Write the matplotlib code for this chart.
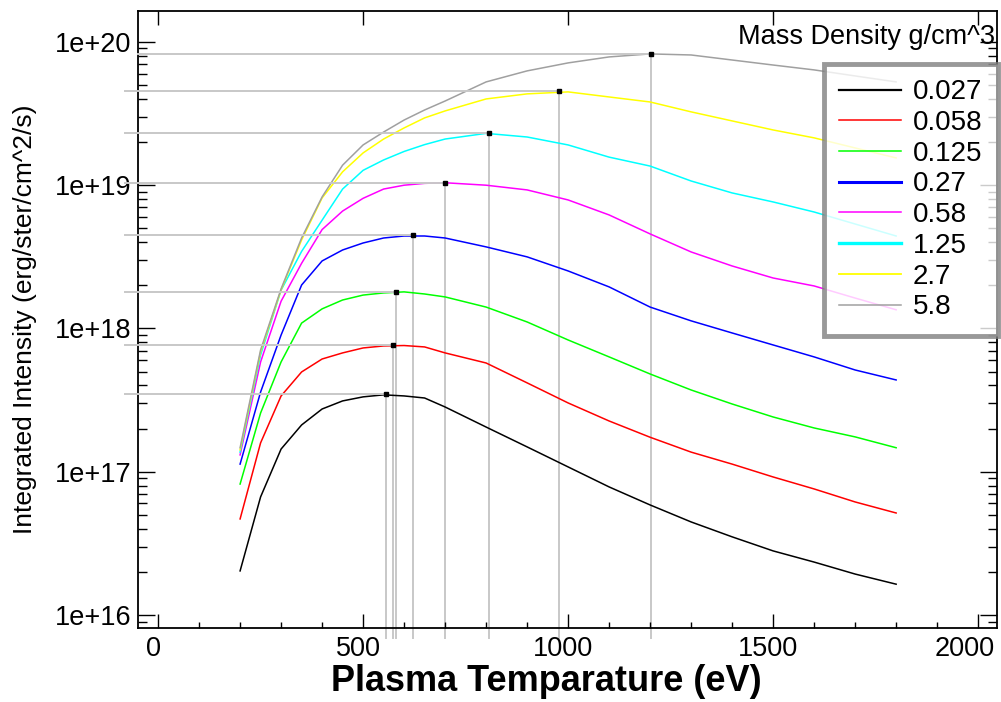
import numpy as np
import matplotlib
matplotlib.use('Agg')
import matplotlib.pyplot as plt
from matplotlib.ticker import MultipleLocator, LogLocator, FuncFormatter, NullFormatter
from matplotlib.lines import Line2D
from matplotlib.transforms import ScaledTranslation

plt.rcParams['font.family'] = ['Liberation Sans', 'DejaVu Sans']

# plasma temperature grid (eV)
temps = [200, 250, 300, 350, 400, 450, 500, 550, 600, 650, 700,
         800, 900, 1000, 1100, 1200, 1300, 1400, 1500, 1600, 1700, 1800]

densities = ['0.027', '0.058', '0.125', '0.27', '0.58', '1.25', '2.7', '5.8']
colors = ['black', '#ff0000', '#00ff00', '#0000ff', '#ff00ff', '#00ffff', '#ffff00', '#a0a0a0']

# integrated intensity (erg/ster/cm^2/s) for each density
I_0027 = [2.03e16, 6.67e16, 1.44e17, 2.12e17, 2.74e17, 3.12e17, 3.33e17, 3.44e17, 3.38e17, 3.27e17, 2.83e17,
          2.05e17, 1.49e17, 1.08e17, 7.83e16, 5.86e16, 4.46e16, 3.51e16, 2.80e16, 2.34e16, 1.93e16, 1.64e16]
I_0058 = [4.68e16, 1.59e17, 3.38e17, 4.97e17, 6.12e17, 6.75e17, 7.31e17, 7.55e17, 7.60e17, 7.43e17, 6.75e17,
          5.74e17, 4.17e17, 3.02e17, 2.26e17, 1.74e17, 1.37e17, 1.13e17, 9.19e16, 7.58e16, 6.15e16, 5.15e16]
I_0125 = [8.2e16, 2.57e17, 5.84e17, 1.09e18, 1.37e18, 1.58e18, 1.71e18, 1.77e18, 1.80e18, 1.74e18, 1.66e18,
          1.41e18, 1.11e18, 8.31e17, 6.33e17, 4.81e17, 3.72e17, 2.97e17, 2.41e17, 2.02e17, 1.75e17, 1.47e17]
I_027 = [1.13e17, 3.6e17, 9.0e17, 2.01e18, 2.96e18, 3.53e18, 3.95e18, 4.28e18, 4.42e18, 4.42e18, 4.28e18,
         3.71e18, 3.16e18, 2.52e18, 1.95e18, 1.41e18, 1.13e18, 9.30e17, 7.67e17, 6.33e17, 5.13e17, 4.37e17]
I_058 = [1.31e17, 5.84e17, 1.55e18, 2.85e18, 4.9e18, 6.6e18, 8.1e18, 9.4e18, 1.00e19, 1.03e19, 1.04e19,
         1.00e19, 9.27e18, 7.89e18, 6.20e18, 4.57e18, 3.42e18, 2.73e18, 2.25e18, 1.98e18, 1.63e18, 1.35e18]
I_125 = [1.37e17, 6.53e17, 1.85e18, 3.45e18, 5.7e18, 9.4e18, 1.27e19, 1.50e19, 1.72e19, 1.92e19, 2.10e19,
         2.30e19, 2.17e19, 1.91e19, 1.57e19, 1.36e19, 1.07e19, 8.83e18, 7.64e18, 6.50e18, 5.36e18, 4.42e18]
I_27 = [1.42e17, 6.86e17, 1.86e18, 4.15e18, 8.15e18, 1.24e19, 1.68e19, 2.10e19, 2.51e19, 2.95e19, 3.30e19,
        4.00e19, 4.34e19, 4.48e19, 4.13e19, 3.81e19, 3.25e19, 2.81e19, 2.43e19, 2.14e19, 1.82e19, 1.55e19]
I_58 = [1.47e17, 7.08e17, 1.89e18, 4.28e18, 8.28e18, 1.38e19, 1.91e19, 2.35e19, 2.85e19, 3.35e19, 3.87e19,
        5.26e19, 6.28e19, 7.14e19, 7.86e19, 8.25e19, 8.11e19, 7.48e19, 6.90e19, 6.38e19, 5.79e19, 5.26e19]

# peak position of each curve
peak_T = [556, 573, 580, 622, 700, 807, 978, 1202]
peak_I = [3.49e17, 7.67e17, 1.80e18, 4.50e18, 1.04e19, 2.32e19, 4.55e19, 8.25e19]

series = [I_0027, I_0058, I_0125, I_027, I_058, I_125, I_27, I_58]

fig = plt.figure(figsize=(10.01, 7.02), dpi=100)
ax = fig.add_axes([138 / 1001, 1 - 628 / 702, 859 / 1001, 617 / 702])
ax.set_yscale('log')
ax.set_xlim(-49, 2046)
ax.set_ylim(10 ** 15.909, 10 ** 20.216)

for vals, c in zip(series, colors):
    ax.plot(temps, vals, color=c, lw=1.1, zorder=2)

ybot = 10 ** 15.84
for i, (pt, pi) in enumerate(zip(peak_T, peak_I)):
    x0 = -49 if i == len(peak_T) - 1 else -80
    ax.plot([x0, pt], [pi, pi], color='#c8c8c8', lw=1.4, clip_on=False, zorder=3)
    ax.plot([pt, pt], [pi, ybot], color='#c8c8c8', lw=1.4, clip_on=False, zorder=1)
ax.plot(peak_T, peak_I, 's', color='black', ms=3.5, zorder=5)

# axes styling
for s in ax.spines.values():
    s.set_linewidth(1.3)
ax.xaxis.set_major_locator(MultipleLocator(500))
ax.xaxis.set_minor_locator(MultipleLocator(100))
ax.yaxis.set_major_locator(LogLocator(base=10, numticks=10))
ax.yaxis.set_minor_locator(LogLocator(base=10, subs=np.arange(2, 10), numticks=20))
ax.yaxis.set_major_formatter(FuncFormatter(lambda v, p: '1e+%d' % int(round(np.log10(v)))))
ax.yaxis.set_minor_formatter(NullFormatter())
ax.tick_params(axis='y', which='major', direction='in', length=12.5, width=1, left=True, right=True,
               labelsize=19.5, pad=5)
ax.tick_params(axis='y', which='minor', direction='in', length=6.5, width=1, left=True, right=True)
ax.tick_params(axis='x', which='major', direction='in', length=10, width=1, top=True,
               labelsize=19.5, pad=6)
ax.tick_params(axis='x', which='minor', direction='in', length=4.3, width=1, top=False)

fig.canvas.draw()
for lab in ax.get_xticklabels():
    dx = -13 if lab.get_text() == '2000' else -5
    lab.set_transform(lab.get_transform() + ScaledTranslation(dx / 100, 0, fig.dpi_scale_trans))

ax.set_xlabel('Plasma Temparature (eV)', fontsize=26, fontweight='bold')
ax.xaxis.set_label_coords(0.475, -0.058)
ax.set_ylabel('Integrated Intensity (erg/ster/cm^2/s)', fontsize=19)
ax.yaxis.set_label_coords(-0.117, 0.5)

fig.text(995 / 1001, 1 - 37 / 702, 'Mass Density g/cm^3', ha='right', va='center', fontsize=19.5)

lw_leg = [1.6, 1.1, 1.1, 2.2, 1.1, 2.4, 1.3, 1.1]
handles = [Line2D([], [], color=c, lw=w) for c, w in zip(colors, lw_leg)]
leg = ax.legend(handles, densities, loc='upper right', bbox_to_anchor=(998 / 1001, 1 - 64 / 702),
                bbox_transform=fig.transFigure, borderaxespad=0, fontsize=20, frameon=True,
                fancybox=False, edgecolor='#808080', handlelength=2.2, handletextpad=0.45,
                labelspacing=0.17, borderpad=0.55)
leg.get_frame().set_linewidth(3.5)
leg.set_zorder(10)

fig.savefig('out.png', dpi=100)
